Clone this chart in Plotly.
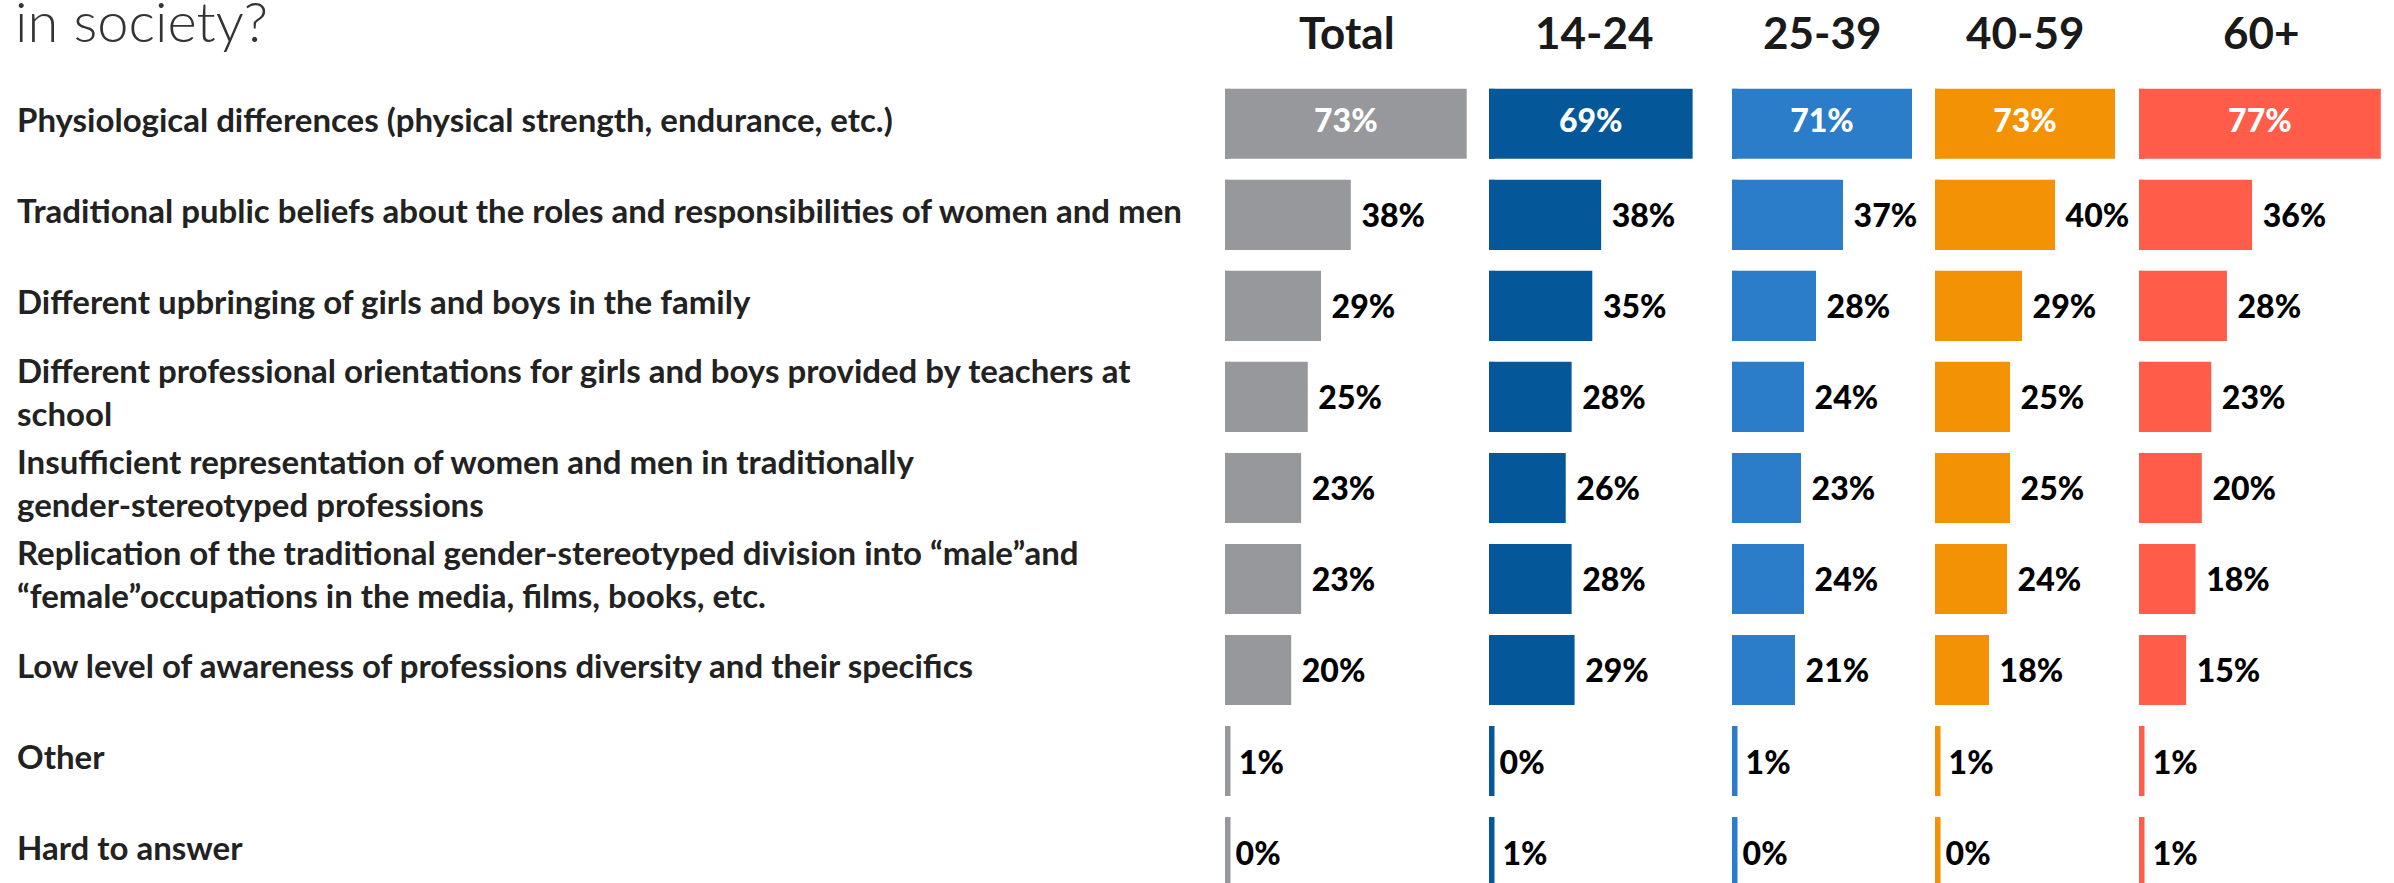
import plotly.graph_objects as go

# Survey answers (rows) and share of respondents per age group (columns)
categories = [
    "Physiological differences (physical strength, endurance, etc.)",
    "Traditional public beliefs about the roles and responsibilities of women and men",
    "Different upbringing of girls and boys in the family",
    "Different professional orientations for girls and boys provided by teachers at<br>school",
    "Insufficient representation of women and men in traditionally<br>gender-stereotyped professions",
    "Replication of the traditional gender-stereotyped division into \u201cmale\u201dand<br>\u201cfemale\u201doccupations in the media, films, books, etc.",
    "Low level of awareness of professions diversity and their specifics",
    "Other",
    "Hard to answer",
]

groups = ["Total", "14-24", "25-39", "40-59", "60+"]

total = [73, 38, 29, 25, 23, 23, 20, 1, 0]
age_14_24 = [69, 38, 35, 28, 26, 28, 29, 0, 1]
age_25_39 = [71, 37, 28, 24, 23, 24, 21, 1, 0]
age_40_59 = [73, 40, 29, 25, 25, 24, 18, 1, 0]
age_60_plus = [77, 36, 28, 23, 20, 18, 15, 1, 1]

series = [total, age_14_24, age_25_39, age_40_59, age_60_plus]
colors = ["#97989C", "#04589A", "#2B7CC9", "#F39205", "#FF5C4A"]

W, H = 2394, 883
# column panels in pixels and the visible value range of each
panels_px = [(1225, 1468), (1489, 1700), (1732, 1912), (1935, 2115), (2139, 2383)]
x_max = [73.4, 71.5, 60, 60, 77.7]

FONT = "Lato, 'Open Sans', sans-serif"
BAR_W = 0.77

fig = go.Figure()
annotations = []

for i, (name, vals, col) in enumerate(zip(groups, series, colors)):
    xa = "x" if i == 0 else f"x{i + 1}"
    # thin baseline tick so that zero and tiny shares stay visible
    fig.add_trace(go.Scatter(
        x=[0] * len(categories), y=categories, xaxis=xa, yaxis="y",
        mode="markers", cliponaxis=True, hoverinfo="skip", showlegend=False,
        marker=dict(symbol="line-ns", size=50, color=col,
                    line=dict(width=11, color=col)),
    ))
    # leading answer: long bar, cut at the edge of its column
    fig.add_trace(go.Bar(
        x=vals[:1], y=categories[:1], orientation="h", xaxis=xa, yaxis="y",
        marker=dict(color=col, line=dict(width=0)), width=BAR_W,
        cliponaxis=True, hoverinfo="skip", showlegend=False,
    ))
    # its value, centred on the visible part of the bar
    fig.add_trace(go.Scatter(
        x=[min(vals[0], x_max[i]) / 2], y=categories[:1], xaxis=xa, yaxis="y",
        mode="text", text=[f"{vals[0]}%"], textposition="middle center",
        textfont=dict(family=FONT, size=32, color="white", weight=900),
        cliponaxis=False, hoverinfo="skip", showlegend=False,
    ))
    # remaining answers: value printed right of the bar
    fig.add_trace(go.Bar(
        x=vals[1:], y=categories[1:], orientation="h", xaxis=xa, yaxis="y",
        marker=dict(color=col, line=dict(width=0)), width=BAR_W,
        texttemplate="\u00a0%{x}%", textposition="outside",
        textfont=dict(family=FONT, size=32, color="black", weight=900),
        constraintext="none", cliponaxis=False, hoverinfo="skip", showlegend=False,
    ))

    x0, x1 = panels_px[i]
    key = "xaxis" if i == 0 else f"xaxis{i + 1}"
    fig.layout[key] = dict(
        domain=[x0 / W, x1 / W], range=[0, x_max[i]], anchor="y",
        showgrid=False, zeroline=False, showticklabels=False, showline=False,
        fixedrange=True,
    )
    annotations.append(dict(
        text=name, xref="paper", yref="paper", x=(x0 + x1) / 2 / W, y=1,
        yanchor="top", xanchor="center", showarrow=False, yshift=-4,
        font=dict(family=FONT, size=44, color="#1a1a1a", weight=700),
    ))

for cat in categories:
    annotations.append(dict(
        text=cat, xref="paper", yref="y", x=15 / W, y=cat, xanchor="left",
        yanchor="middle", align="left", showarrow=False, yshift=5,
        font=dict(family=FONT, size=33, color="#222222", weight=700),
    ))

annotations.append(dict(
    text="in society?", xref="paper", yref="paper", x=13 / W, y=1 - 56 / H,
    xanchor="left", yanchor="bottom", showarrow=False,
    font=dict(family=FONT, size=56, color="#333333", weight=300),
))

fig.update_layout(
    width=W, height=H, margin=dict(l=0, r=0, t=0, b=0),
    paper_bgcolor="white", plot_bgcolor="white",
    barmode="overlay",
    yaxis=dict(domain=[0, 1], range=[8.34, -1.36], type="category",
               categoryorder="array", categoryarray=categories,
               showticklabels=False, showgrid=False, zeroline=False,
               showline=False, fixedrange=True, anchor="x"),
    annotations=annotations,
    showlegend=False,
)

fig.write_html("out.html")
